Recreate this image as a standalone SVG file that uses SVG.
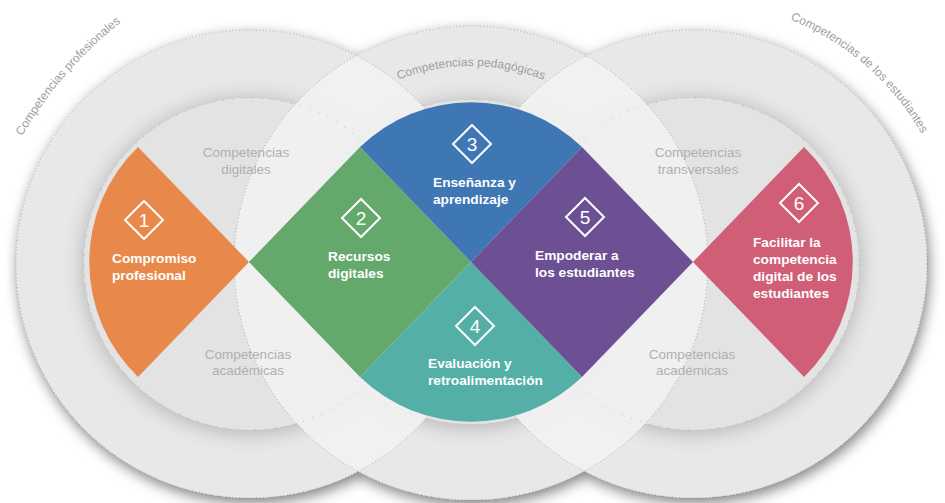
<svg xmlns="http://www.w3.org/2000/svg" xmlns:xlink="http://www.w3.org/1999/xlink" width="945" height="503" viewBox="0 0 945 503">
<style>
.lbl{font-family:"Liberation Sans",Arial,sans-serif;font-weight:bold;font-size:13.7px;fill:#fff}
.num{font-family:"Liberation Sans",Arial,sans-serif;font-size:19px;fill:#fff;text-anchor:middle}
.sub{font-family:"Liberation Sans",Arial,sans-serif;font-size:13.5px;fill:#b3aeae;text-anchor:middle}
.arc{font-family:"Liberation Sans",Arial,sans-serif;font-size:12px;fill:#9e9e9e}
.dot{fill:none;stroke:#5e5e5e;stroke-width:0.9;stroke-dasharray:0.8 2.6;opacity:0.6}
.dot2{fill:none;stroke:#5e5e5e;stroke-width:0.9;stroke-dasharray:0.8 9;opacity:0.5}
.lens{fill:#f1f1f1;opacity:0.93}
</style>
<defs>
<filter id="ds" x="-15%" y="-15%" width="130%" height="135%">
<feGaussianBlur in="SourceAlpha" stdDeviation="7"/>
<feOffset dx="2" dy="5"/>
<feComponentTransfer><feFuncA type="linear" slope="0.5"/></feComponentTransfer>
<feMerge><feMergeNode/><feMergeNode in="SourceGraphic"/></feMerge>
</filter>
<filter id="is" x="-25%" y="-25%" width="150%" height="150%">
<feGaussianBlur in="SourceAlpha" stdDeviation="11"/>
<feOffset dx="0" dy="2"/>
<feComponentTransfer><feFuncA type="linear" slope="0.26"/></feComponentTransfer>
<feMerge><feMergeNode/><feMergeNode in="SourceGraphic"/></feMerge>
</filter>
<clipPath id="c1"><circle cx="250" cy="264" r="234"/></clipPath>
<clipPath id="c3"><circle cx="693" cy="264" r="234"/></clipPath>
<path id="dm" d="M0,-19 L19,0 L0,19 L-19,0 Z" fill="none" stroke="#fff" stroke-width="2"/>
<path id="pL" d="M5.5,168 A400 400 0 0 1 150.1,1.5"/>
<path id="pM" d="M372.5,92.4 A197 197 0 0 1 569.5,92.4"/>
<path id="pR" d="M743.2,5.8 A263 263 0 0 1 941.7,178.4"/>
</defs>
<rect width="945" height="503" fill="#fff"/>

<g id="background">
<g filter="url(#ds)" fill="#e8e8e8">
<circle cx="250" cy="264" r="234"/>
<circle cx="471" cy="263" r="237"/>
<circle cx="693" cy="264" r="234"/>
</g>
<circle cx="250" cy="264" r="166" fill="#e3e3e3" filter="url(#is)"/>
<circle cx="693" cy="264" r="166" fill="#e3e3e3" filter="url(#is)"/>
<circle cx="471" cy="262" r="162" fill="#e3e3e3" filter="url(#is)"/>
<g clip-path="url(#c1)"><circle class="lens" cx="471" cy="263" r="237"/></g>
<g clip-path="url(#c3)"><circle class="lens" cx="471" cy="263" r="237"/></g>
<circle class="dot" cx="250" cy="264" r="234"/>
<circle class="dot" cx="471" cy="263" r="237"/>
<circle class="dot" cx="693" cy="264" r="234"/>
<circle class="dot2" cx="250" cy="264" r="166"/>
<circle class="dot2" cx="693" cy="264" r="166"/>
<text class="arc"><textPath href="#pL" startOffset="50%" text-anchor="middle">Competencias profesionales</textPath></text>
<text class="arc"><textPath href="#pM" startOffset="50%" text-anchor="middle">Competencias pedagógicas</textPath></text>
<text class="arc"><textPath href="#pR" startOffset="50%" text-anchor="middle">Competencias de los estudiantes</textPath></text>
<text class="sub" x="246" y="157">Competencias</text>
<text class="sub" x="246" y="174">digitales</text>
<text class="sub" x="248" y="359">Competencias</text>
<text class="sub" x="248" y="375">académicas</text>
<text class="sub" x="698" y="157">Competencias</text>
<text class="sub" x="698" y="174">transversales</text>
<text class="sub" x="692" y="359">Competencias</text>
<text class="sub" x="692" y="375">académicas</text>
</g>

<g id="connectors"></g>

<g id="node1">
<path d="M249,262 L138,377 A160 160 0 0 1 138,147 Z" fill="#e8894b"/>
<use href="#dm" x="144" y="220"/>
<text class="num" x="144" y="227">1</text>
<text class="lbl" x="112" y="262.5">Compromiso</text>
<text class="lbl" x="112" y="279.5">profesional</text>
</g>
<g id="node2">
<path d="M249,262 L360,147 L471,262 L360,377 Z" fill="#65a86c"/>
<use href="#dm" x="361" y="218"/>
<text class="num" x="361" y="225">2</text>
<text class="lbl" x="328" y="261">Recursos</text>
<text class="lbl" x="328" y="278">digitales</text>
</g>
<g id="node3">
<path d="M471,262 L360,147 A160 160 0 0 1 582,147 Z" fill="#3e77b3"/>
<use href="#dm" x="472" y="144"/>
<text class="num" x="472" y="151">3</text>
<text class="lbl" x="433" y="187">Enseñanza y</text>
<text class="lbl" x="433" y="204">aprendizaje</text>
</g>
<g id="node4">
<path d="M471,262 L582,377 A160 160 0 0 1 360,377 Z" fill="#54afa7"/>
<use href="#dm" x="475" y="326"/>
<text class="num" x="475" y="333">4</text>
<text class="lbl" x="428" y="368">Evaluación y</text>
<text class="lbl" x="428" y="385">retroalimentación</text>
</g>
<g id="node5">
<path d="M471,262 L582,147 L693,262 L582,377 Z" fill="#6d5094"/>
<use href="#dm" x="585" y="217"/>
<text class="num" x="585" y="224">5</text>
<text class="lbl" x="535" y="260">Empoderar a</text>
<text class="lbl" x="535" y="277">los estudiantes</text>
</g>
<g id="node6">
<path d="M693,262 L804,147 A160 160 0 0 1 804,377 Z" fill="#d05e76"/>
<use href="#dm" x="799" y="203"/>
<text class="num" x="799" y="210">6</text>
<text class="lbl" x="753" y="246.5">Facilitar la</text>
<text class="lbl" x="753" y="263.5">competencia</text>
<text class="lbl" x="753" y="280.5">digital de los</text>
<text class="lbl" x="753" y="297.5">estudiantes</text>
</g>
</svg>
